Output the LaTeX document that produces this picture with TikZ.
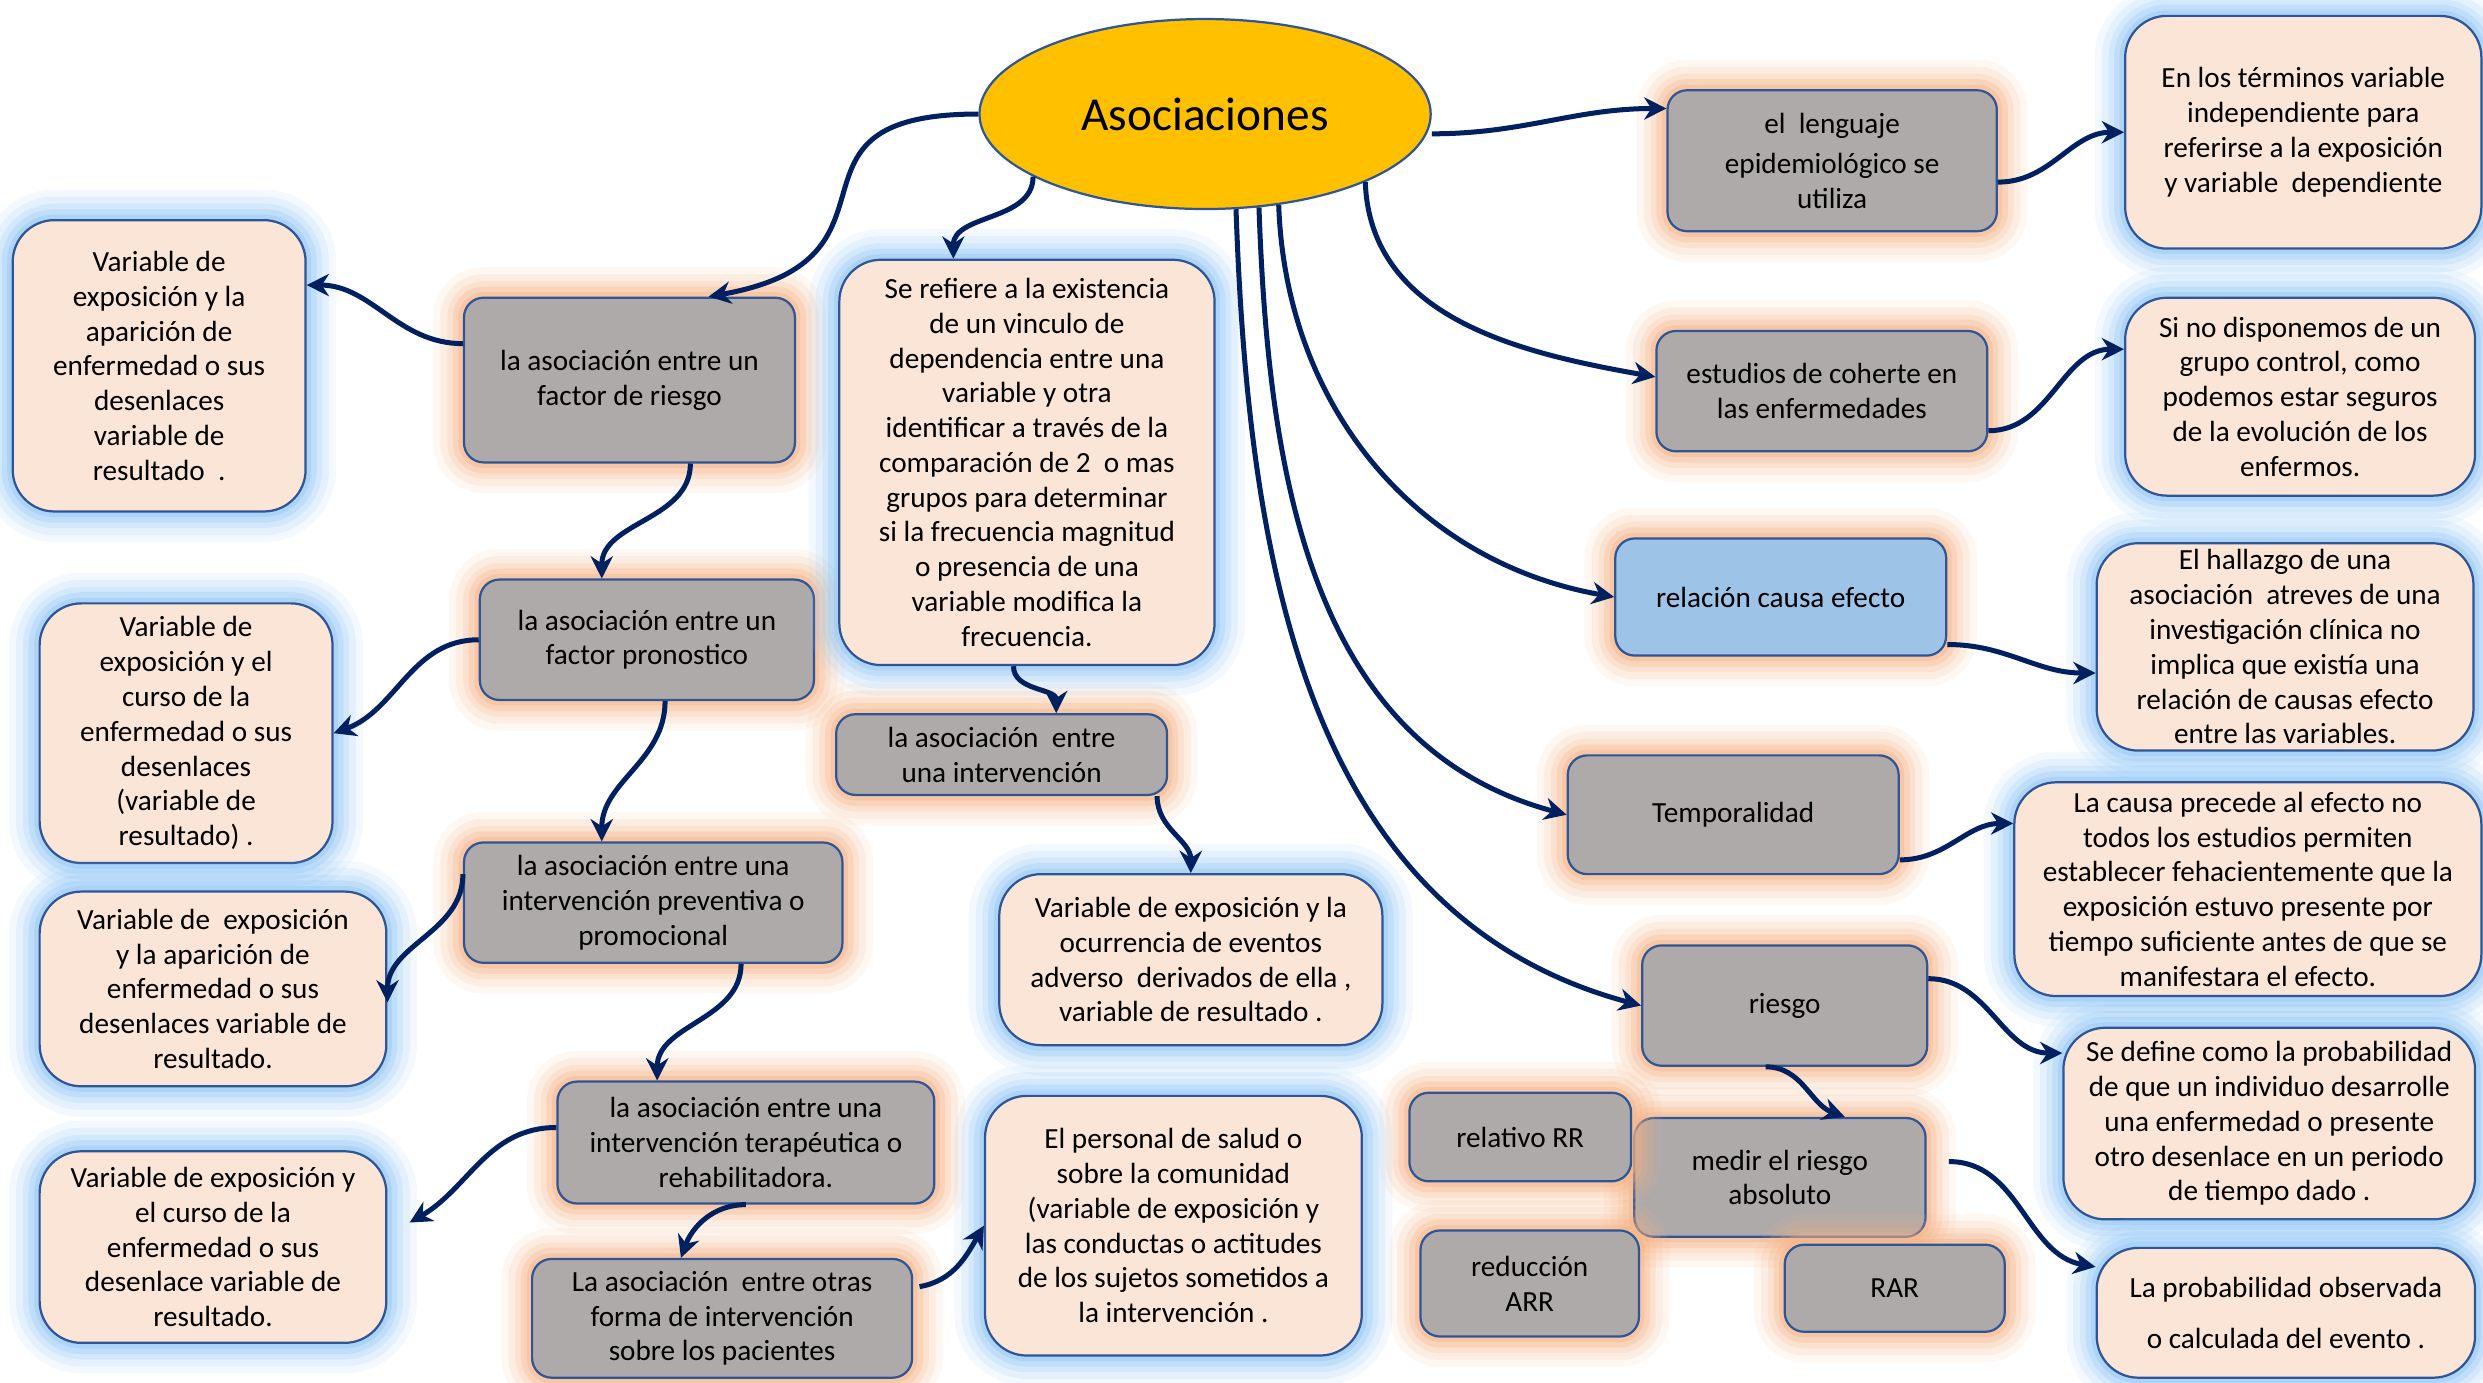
\documentclass[tikz,border=0pt]{standalone}
\usepackage{fontspec}
\setmainfont{Carlito}
\usepackage{tikz}
\usetikzlibrary{arrows.meta}
\usetikzlibrary{shapes.geometric}

\definecolor{azulborde}{HTML}{2F5597}
\definecolor{azulflecha}{HTML}{002060}
\definecolor{gris}{HTML}{AEAAAA}
\definecolor{piel}{HTML}{FBE5D6}
\definecolor{celeste}{HTML}{9DC3E6}
\definecolor{oro}{HTML}{FFC000}
\definecolor{brillonaranja}{HTML}{F4B183}
\definecolor{brilloazul}{HTML}{8DC4F5}

\tikzset{
    texto/.style={font=\fontsize{10.5}{12.5}\selectfont, align=center, inner sep=1pt},
    brillo/.style={
        preaction={draw=#1, draw opacity=0.1, line width=22pt},
        preaction={draw=#1, draw opacity=0.15, line width=17pt},
        preaction={draw=#1, draw opacity=0.2, line width=12pt},
        preaction={draw=#1, draw opacity=0.28, line width=8pt},
        preaction={draw=#1, draw opacity=0.4, line width=4pt}},
    concepto/.style={texto, draw=azulborde, line width=0.8pt, fill=gris, rounded corners=7pt, brillo=brillonaranja},
    nota/.style={texto, draw=azulborde, line width=0.8pt, fill=piel, rounded corners=15pt, brillo=brilloazul},
    flecha/.style={-{Stealth[length=8pt, width=8pt]}, line width=1.8pt, draw=azulflecha},
}

\begin{document}
\begin{tikzpicture}[x=0.02cm, y=0.02cm]
        \useasboundingbox (0,0) rectangle (1568,-873);

        \node[ellipse, draw=azulborde, line width=0.8pt, fill=oro, minimum width=5.7cm, minimum height=2.4cm, font=\fontsize{17}{20}\selectfont] (asoc) at (761,-72) {Asociaciones};

        \node[concepto, minimum width=4.16cm, minimum height=1.78cm] (lenguaje) at (1157,-101.5) {el~~lenguaje\\[2pt] epidemiológico se\\ utiliza};
        \node[concepto, minimum width=4.18cm, minimum height=1.52cm] (coherte) at (1150.5,-247) {estudios de coherte en\\ las enfermedades};
        \node[concepto, fill=celeste, minimum width=4.18cm, minimum height=1.48cm] (causa) at (1124.5,-377) {relación causa efecto};
        \node[concepto, minimum width=4.18cm, minimum height=1.5cm] (temporal) at (1094.5,-514.5) {Temporalidad};
        \node[concepto, minimum width=3.6cm, minimum height=1.52cm] (riesgo) at (1127,-635) {riesgo};
        \node[concepto, minimum width=3.68cm, minimum height=1.5cm] (medir) at (1124,-743.5) {medir el riesgo\\ absoluto};
        \node[concepto, minimum width=2.8cm, minimum height=1.12cm] (relativo) at (960,-718) {relativo RR};
        \node[concepto, minimum width=2.76cm, minimum height=1.34cm] (reduccion) at (966,-810.5) {reducción\\ ARR};
        \node[concepto, minimum width=2.78cm, minimum height=1.1cm] (rar) at (1196.5,-813.5) {RAR};

        \node[concepto, minimum width=4.18cm, minimum height=2.08cm] (factriesgo) at (397.5,-240) {la asociación entre un\\ factor de riesgo};
        \node[concepto, minimum width=4.22cm, minimum height=1.52cm] (factpron) at (408.5,-404) {la asociación entre un\\ factor pronostico};
        \node[concepto, minimum width=4.78cm, minimum height=1.52cm] (preventiva) at (412.5,-570) {la asociación entre una\\ intervención preventiva o\\ promocional};
        \node[concepto, minimum width=4.76cm, minimum height=1.54cm] (terapeutica) at (471,-721.5) {la asociación entre una\\ intervención terapéutica o\\ rehabilitadora.};
        \node[concepto, minimum width=4.8cm, minimum height=1.5cm] (otras) at (456,-832.5) {La asociación~~entre otras\\ forma de intervención\\ sobre los pacientes};
        \node[concepto, minimum width=4.18cm, minimum height=1.02cm] (interv) at (632.5,-476.5) {la asociación~~entre\\ una intervención};

        \node[nota, minimum width=3.7cm, minimum height=3.68cm] (aparicion) at (100.5,-231) {Variable de\\ exposición y la\\ aparición de\\ enfermedad o sus\\ desenlaces\\ variable de\\ resultado~~.};
        \node[nota, minimum width=3.7cm, minimum height=3.28cm] (curso) at (117.5,-463) {Variable de\\ exposición y el\\ curso de la\\ enfermedad o sus\\ desenlaces\\ (variable de\\ resultado) .};
        \node[nota, minimum width=4.38cm, minimum height=2.46cm] (aparicionb) at (134.5,-624.5) {Variable de~~exposición\\ y la aparición de\\ enfermedad o sus\\ desenlaces variable de\\ resultado.};
        \node[nota, minimum width=4.38cm, minimum height=2.42cm] (cursob) at (134.5,-787.5) {Variable de exposición y\\ el curso de la\\ enfermedad o sus\\ desenlace variable de\\ resultado.};
        \node[nota, minimum width=4.74cm, minimum height=5.12cm] (definicion) at (648.5,-292) {Se refiere a la existencia\\ de un vinculo de\\ dependencia entre una\\ variable y otra\\ identificar a través de la\\ comparación de 2~~o mas\\ grupos para determinar\\ si la frecuencia magnitud\\ o presencia de una\\ variable modifica la\\ frecuencia.};
        \node[nota, minimum width=4.84cm, minimum height=2.16cm] (adverso) at (752,-606) {Variable de exposición y la\\ ocurrencia de eventos\\ adverso~~derivados de ella ,\\ variable de resultado .};
        \node[nota, minimum width=4.76cm, minimum height=3.28cm] (personal) at (741,-774) {El personal de salud o\\ sobre la comunidad\\ (variable de exposición y\\ las conductas o actitudes\\ de los sujetos sometidos a\\ la intervención .};
        \node[nota, minimum width=4.5cm, minimum height=2.94cm] (terminos) at (1454.5,-83.5) {En los términos variable\\ independiente para\\ referirse a la exposición\\ y variable~~dependiente};
        \node[nota, minimum width=4.42cm, minimum height=2.5cm] (control) at (1452.5,-250.5) {Si no disponemos de un\\ grupo control, como\\ podemos estar seguros\\ de la evolución de los\\ enfermos.};
        \node[nota, minimum width=4.76cm, minimum height=2.62cm] (hallazgo) at (1443,-408.5) {El hallazgo de una\\ asociación~~atreves de una\\ investigación clínica no\\ implica que existía una\\ relación de causas efecto\\ entre las variables.};
        \node[nota, minimum width=5.9cm, minimum height=2.7cm] (precede) at (1419.5,-561.5) {La causa precede al efecto no\\ todos los estudios permiten\\ establecer fehacientemente que la\\ exposición estuvo presente por\\ tiempo suficiente antes de que se\\ manifestara el efecto.};
        \node[nota, minimum width=5.2cm, minimum height=2.42cm] (probabilidad) at (1433,-709.5) {Se define como la probabilidad\\ de que un individuo desarrolle\\ una enfermedad o presente\\ otro desenlace en un periodo\\ de tiempo dado .};
        \node[nota, minimum width=4.78cm, minimum height=1.64cm] (observada) at (1443.5,-829) {La probabilidad observada\\[0.2cm] o calculada del evento .};

        \begin{scope}[flecha]
            \draw (asoc.west) to[out=180, in=10, looseness=1.7] ([xshift=1cm]factriesgo.north);
            \draw (asoc.200) to[out=-90, in=90] ([xshift=-0.93cm]definicion.north);
            \draw ([yshift=-0.25cm]asoc.east) to[out=0, in=180] ([yshift=0.66cm]lenguaje.west);
            \draw (asoc.-23) to[out=-88, in=170] ([yshift=0.18cm]coherte.west);
            \draw (asoc.-51) to[out=-88, in=170] (causa.west);
            \draw (asoc.-60) to[out=-88, in=165] (temporal.west);
            \draw (asoc.-72) to[out=-88, in=165] (riesgo.west);

            \draw ([yshift=-0.27cm]lenguaje.east) to[out=0, in=180] (terminos.west);
            \draw ([yshift=-0.5cm]coherte.east) to[out=0, in=180] ([yshift=0.6cm]control.west);
            \draw ([yshift=-0.6cm]causa.east) to[out=0, in=180] ([yshift=-0.33cm]hallazgo.west);
            \draw ([yshift=-0.57cm]temporal.east) to[out=0, in=180] ([yshift=0.83cm]precede.west);
            \draw ([yshift=0.34cm]riesgo.east) to[out=0, in=180] ([yshift=0.89cm]probabilidad.west);
            \draw ([xshift=-0.24cm]riesgo.south) to[out=0, in=160] ([xshift=0.82cm]medir.north);
            \draw ([xshift=0.28cm, yshift=0.2cm]medir.east) to[out=0, in=170] ([yshift=0.58cm]observada.west);

            \draw ([yshift=0.46cm]factriesgo.west) to[out=180, in=0] ([yshift=1.02cm]aparicion.east);
            \draw ([xshift=0.77cm]factriesgo.south) to[out=-90, in=90] ([xshift=-0.57cm]factpron.north);
            \draw (factpron.west) to[out=180, in=20] (curso.east);
            \draw ([xshift=0.23cm]factpron.south) to[out=-90, in=90] ([xshift=-0.65cm]preventiva.north);
            \draw ([yshift=0.36cm]preventiva.west) to[out=-90, in=90] ([yshift=-0.17cm]aparicionb.east);
            \draw ([xshift=1.11cm]preventiva.south) to[out=-90, in=90] ([xshift=-1.12cm]terapeutica.north);
            \draw ([yshift=0.19cm]terapeutica.west) to[out=180, in=30] ([xshift=0.28cm, yshift=0.31cm]cursob.east);
            \draw (terapeutica.south) to[out=180, in=70] ([xshift=-0.52cm]otras.north);
            \draw ([xshift=0.08cm, yshift=0.4cm]otras.east) to[out=10, in=240] (personal.west);
            \draw ([xshift=-0.17cm]definicion.south) to[out=-90, in=90] ([xshift=0.69cm]interv.north);
            \draw ([xshift=-0.14cm]interv.south east) to[out=-90, in=90] (adverso.north);
        \end{scope}
\end{tikzpicture}
\end{document}
